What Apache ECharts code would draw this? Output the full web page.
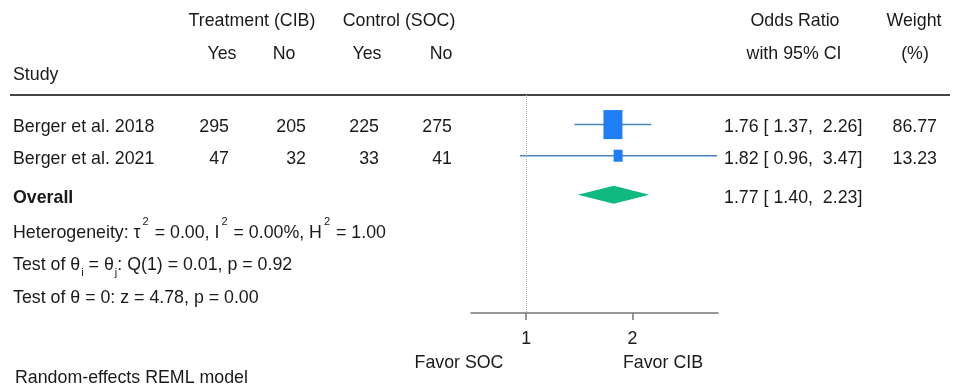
<!DOCTYPE html>
<html>
<head>
<meta charset="utf-8">
<script src="https://cdn.jsdelivr.net/npm/echarts@6/dist/echarts.min.js"></script>
<style>
html,body{margin:0;padding:0;background:#fff;}
#chart{width:955px;height:389px;}
</style>
</head>
<body>
<div id="chart"></div>
<script>
// ---------------- data ----------------
const studies = ['Berger et al. 2018', 'Berger et al. 2021'];
const trtYes = [295, 47];
const trtNo = [205, 32];
const ctlYes = [225, 33];
const ctlNo = [275, 41];
const orEst = [1.76, 1.82];
const orLo = [1.37, 0.96];
const orHi = [2.26, 3.47];
const weights = [86.77, 13.23];
const overallLabel = 'Overall';
const overallOR = [1.77, 1.40, 2.23]; // estimate, lower, upper
const xTicks = [1, 2];
const axisRange = [0.698, 3.49];
const statLines = [
  'Heterogeneity: τ{sup|2} = 0.00, I{sup|2} = 0.00%, H{sup|2} = 1.00',
  'Test of θ{sub|i} = θ{sub|j}: Q(1) = 0.01, p = 0.92',
  'Test of θ = 0: z = 4.78, p = 0.00'
];
const modelNote = 'Random-effects REML model';
const favorLeft = 'Favor SOC';
const favorRight = 'Favor CIB';

// ---------------- layout / style ----------------
const FONT = '"Liberation Sans", Arial, Helvetica, sans-serif';
const FS = 17.8;
const TXT = '#1a1a1a';
const n = studies.length;
const studyRow = i => i + 1;
const overallRow = n + 1.25;
const statRow = k => n + 2.4 + k * 1.03;

const chart = echarts.init(document.getElementById('chart'), null, {renderer: 'canvas'});

const studyData = studies.map((s, i) => [Math.log(orEst[i]), Math.log(orLo[i]), Math.log(orHi[i]), studyRow(i), weights[i]]);
const overallData = [[Math.log(overallOR[0]), Math.log(overallOR[1]), Math.log(overallOR[2]), overallRow]];

chart.setOption({
  animation: false,
  backgroundColor: '#fff',
  grid: {left: 471, right: 237, top: 95, bottom: 76},
  xAxis: {
    type: 'value',
    min: Math.log(axisRange[0]),
    max: Math.log(axisRange[1]),
    splitLine: {show: false},
    axisLine: {show: true, onZero: false, lineStyle: {color: '#777', width: 1.5}},
    axisTick: {show: true, customValues: xTicks.map(Math.log), length: 7, lineStyle: {color: '#777', width: 1.5}},
    axisLabel: {
      customValues: xTicks.map(Math.log),
      formatter: v => String(Math.round(Math.exp(v))),
      fontSize: FS, fontFamily: FONT, color: TXT, margin: 17
    }
  },
  yAxis: {type: 'value', inverse: true, min: 0.05, max: 7.05, show: false},
  series: [
    {
      type: 'custom',
      data: studyData,
      encode: {x: [0, 1, 2], y: 3},
      clip: false,
      renderItem: (params, api) => {
        const y = api.value(3);
        const p = api.coord([api.value(0), y]);
        const lo = api.coord([api.value(1), y]);
        const hi = api.coord([api.value(2), y]);
        const sw = Math.sqrt(api.value(4));
        const bw = 2.58 + 1.764 * sw;
        const bh = 1.1 + 3.0 * sw;
        return {
          type: 'group',
          children: [
            {type: 'line', shape: {x1: lo[0], y1: lo[1], x2: hi[0], y2: hi[1]}, style: {stroke: '#4a84bd', lineWidth: 1.5}},
            {type: 'rect', shape: {x: p[0] - bw / 2, y: p[1] - bh / 2, width: bw, height: bh}, style: {fill: '#1f7ef4'}}
          ]
        };
      },
      z: 3
    },
    {
      type: 'custom',
      data: overallData,
      encode: {x: [0, 1, 2], y: 3},
      clip: false,
      renderItem: (params, api) => {
        const y = api.value(3);
        const p = api.coord([api.value(0), y]);
        const lo = api.coord([api.value(1), y]);
        const hi = api.coord([api.value(2), y]);
        const h = 9;
        return {
          type: 'polygon',
          shape: {points: [[lo[0], p[1]], [p[0], p[1] - h], [hi[0], p[1]], [p[0], p[1] + h]]},
          style: {fill: '#0fb97f'}
        };
      },
      markLine: {
        silent: true,
        symbol: 'none',
        label: {show: false},
        lineStyle: {type: 'dotted', color: '#aaa', width: 1},
        data: [{xAxis: 0}]
      },
      z: 3
    }
  ]
});

// ---------------- text table ----------------
const yPix = v => chart.convertToPixel({yAxisIndex: 0}, v);
const g = [];
function txt(x, y, text, align, extra) {
  g.push({
    type: 'text', x: x, y: y, silent: true,
    style: Object.assign({text: text, font: FS + 'px ' + FONT, fill: TXT, align: align || 'left', verticalAlign: 'middle'}, extra || {})
  });
}
// headers
txt(252, 21, 'Treatment (CIB)', 'center');
txt(399, 21, 'Control (SOC)', 'center');
txt(795, 21, 'Odds Ratio', 'center');
txt(914, 21, 'Weight', 'center');
txt(222, 54, 'Yes', 'center');
txt(284, 54, 'No', 'center');
txt(367, 54, 'Yes', 'center');
txt(441, 54, 'No', 'center');
txt(794, 54, 'with 95% CI', 'center');
txt(915, 54, '(%)', 'center');
txt(13, 75, 'Study', 'left');
g.push({type: 'line', silent: true, shape: {x1: 10, y1: 95, x2: 950, y2: 95}, style: {stroke: '#444', lineWidth: 2}});

const fmtCI = (e, l, h) => e.toFixed(2) + ' [ ' + l.toFixed(2) + ',  ' + h.toFixed(2) + ']';
studies.forEach((s, i) => {
  const y = yPix(studyRow(i)) + 3;
  txt(13, y, s, 'left');
  txt(229, y, String(trtYes[i]), 'right');
  txt(306, y, String(trtNo[i]), 'right');
  txt(379, y, String(ctlYes[i]), 'right');
  txt(452, y, String(ctlNo[i]), 'right');
  txt(724, y, fmtCI(orEst[i], orLo[i], orHi[i]), 'left');
  txt(937, y, weights[i].toFixed(2), 'right');
});
{
  const y = yPix(overallRow) + 3;
  txt(13, y, overallLabel, 'left', {font: 'bold ' + FS + 'px ' + FONT});
  txt(724, y, fmtCI(overallOR[0], overallOR[1], overallOR[2]), 'left');
}
statLines.forEach((line, k) => {
  const hasSub = line.indexOf('{sub|') >= 0;
  const richStyles = {
    m: {fontSize: FS, fontFamily: FONT, color: TXT, lineHeight: hasSub ? 26 : 34, verticalAlign: 'middle'},
    sup: {fontSize: 11, fontFamily: FONT, color: TXT, lineHeight: 11, verticalAlign: 'top', padding: [0, 1, 0, 2]},
    sub: {fontSize: 11, fontFamily: FONT, color: TXT, lineHeight: 11, verticalAlign: 'bottom', padding: [0, 0, 0, 1]}
  };
  const parts = line.split(/(\{(?:sup|sub)\|[^}]*\})/).filter(p => p.length);
  const rich = parts.map(p => p.startsWith('{') ? p : '{m|' + p + '}').join('');
  g.push({
    type: 'text', silent: true, x: 13, y: yPix(statRow(k)) + 3,
    style: {text: rich, rich: richStyles, align: 'left', verticalAlign: 'middle', font: FS + 'px ' + FONT, fill: TXT}
  });
});
txt(459, 363, favorLeft, 'center');
txt(663, 363, favorRight, 'center');
txt(15, 378, modelNote, 'left');

chart.setOption({graphic: {elements: g}});
</script>
</body>
</html>
